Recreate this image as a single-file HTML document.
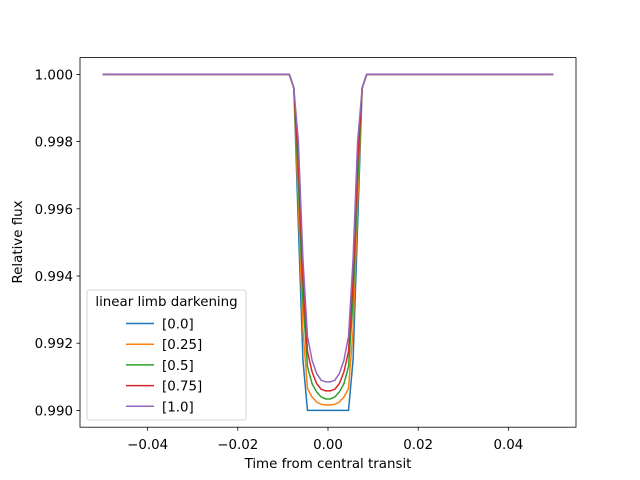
<!DOCTYPE html>
<html><head><meta charset="utf-8"><style>body{margin:0;background:#fff}svg{display:block;font-family:"DejaVu Sans","Liberation Sans",sans-serif}</style></head>
<body>
<svg id="c" width="640" height="480"></svg>
<script>
const times=[-0.05,-0.00859,-0.00758,-0.00657,-0.00556,-0.00455,-0.00354,-0.00253,-0.00152,-0.00051,0.00051,0.00152,0.00253,0.00354,0.00455,0.00556,0.00657,0.00758,0.00859,0.05];
const seriesLabels=["[0.0]","[0.25]","[0.5]","[0.75]","[1.0]"];
const fluxU0=[1,1,0.9996,0.9955,0.9915,0.9900,0.9900,0.9900,0.9900,0.9900,0.9900,0.9900,0.9900,0.9900,0.9900,0.9915,0.9955,0.9996,1,1];
const fluxU25=[1,1,0.9996,0.9962,0.9924,0.99065,0.9904,0.99025,0.99018,0.99016,0.99016,0.99018,0.99025,0.9904,0.99065,0.9924,0.9962,0.9996,1,1];
const fluxU50=[1,1,0.9996,0.9968,0.9933,0.9913,0.9908,0.99055,0.9904,0.99034,0.99034,0.9904,0.99055,0.9908,0.9913,0.9933,0.9968,0.9996,1,1];
const fluxU75=[1,1,0.9996,0.9974,0.9939,0.99175,0.99115,0.9908,0.99063,0.99058,0.99058,0.99063,0.9908,0.99115,0.99175,0.9939,0.9974,0.9996,1,1];
const fluxU100=[1,1,0.9996,0.9980,0.9945,0.9922,0.9915,0.9911,0.9909,0.99085,0.99085,0.9909,0.9911,0.9915,0.9922,0.9945,0.9980,0.9996,1,1];
const xTicks=[-0.04,-0.02,0,0.02,0.04];
const xTickLabels=["−0.04","−0.02","0.00","0.02","0.04"];
const yTicks=[0.990,0.992,0.994,0.996,0.998,1.000];
const yTickLabels=["0.990","0.992","0.994","0.996","0.998","1.000"];
const colors=["#1f77b4","#ff7f0e","#2ca02c","#d62728","#9467bd"];
const series=[fluxU0,fluxU25,fluxU50,fluxU75,fluxU100];
const L=80,R=576,T=57.6,B=427.2,xmin=-0.055,xmax=0.055,ymin=0.9895,ymax=1.0005;
const FS=13.4;
const sx=v=>L+(v-xmin)/(xmax-xmin)*(R-L);
const sy=v=>B-(v-ymin)/(ymax-ymin)*(B-T);
const svg=document.getElementById('c');const NS='http://www.w3.org/2000/svg';
function mk(tag,attrs,parent){const e=document.createElementNS(NS,tag);for(const k in attrs)e.setAttribute(k,attrs[k]);(parent||svg).appendChild(e);return e;}
series.forEach((s,j)=>{
 const p=mk('polyline',{points:s.map((v,i)=>sx(times[i])+','+sy(v)).join(' '),fill:'none',stroke:colors[j],'stroke-width':1.5,'stroke-linejoin':'round'});
 
 
});
const frame=mk('rect',{x:L,y:T,width:R-L,height:B-T,fill:'none',stroke:'#000','stroke-width':0.8});


xTicks.forEach((v,i)=>{
 mk('line',{x1:sx(v),x2:sx(v),y1:B,y2:B+3.5,stroke:'#000','stroke-width':0.8});
 const t=mk('text',{x:sx(v),y:B+22,'font-size':FS,'text-anchor':'middle'});t.textContent=xTickLabels[i];
 
 
});
yTicks.forEach((v,i)=>{
 mk('line',{x1:L-3.5,x2:L,y1:sy(v),y2:sy(v),stroke:'#000','stroke-width':0.8});
 const t=mk('text',{x:L-7,y:sy(v)+5,'font-size':FS,'text-anchor':'end'});t.textContent=yTickLabels[i];
 
 
});
const xt=mk('text',{x:328,y:468,'font-size':FS,'text-anchor':'middle'});xt.textContent='Time from central transit';


const yt=mk('text',{x:0,y:0,'font-size':FS,'text-anchor':'middle',transform:'translate(22,242) rotate(-90)'});yt.textContent='Relative flux';


const lg=mk('g',{});


mk('rect',{x:87,y:290,width:159,height:130,rx:2,fill:'#fff','fill-opacity':0.8,stroke:'#ccc','stroke-width':0.8},lg);
const lt=mk('text',{x:166.5,y:306,'font-size':FS,'text-anchor':'middle'},lg);lt.textContent='linear limb darkening';


seriesLabels.forEach((lab,j)=>{
 const y=323.5+j*20.7;
 const g=mk('g',{},lg);
 
 
 mk('line',{x1:126,x2:154,y1:y,y2:y,stroke:colors[j],'stroke-width':1.5},g);
 const t=mk('text',{x:162,y:y+5,'font-size':FS},g);t.textContent=lab;
});
</script>
</body></html>
